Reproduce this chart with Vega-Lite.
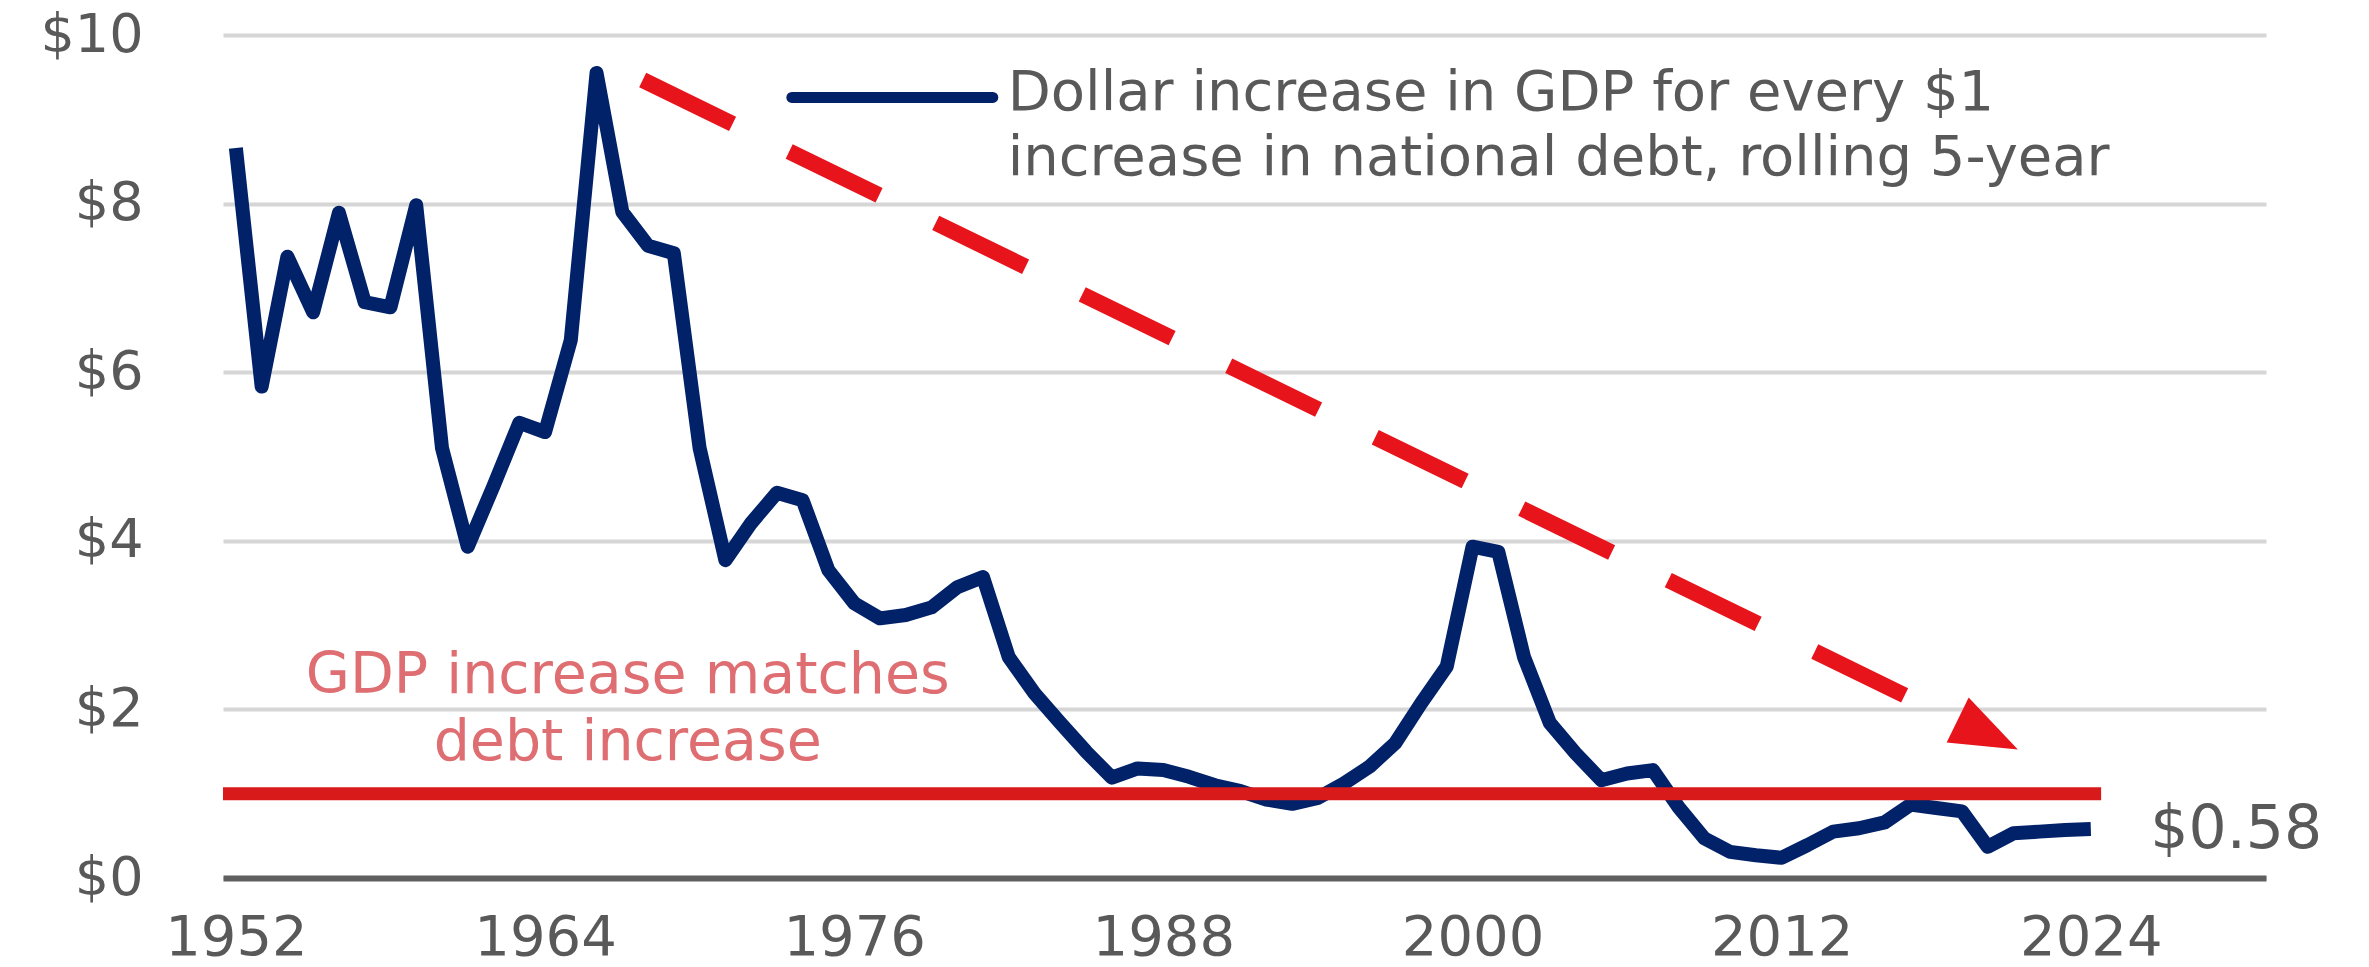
{
  "$schema": "https://vega.github.io/schema/vega-lite/v6.json",
  "width": 2043,
  "height": 843,
  "autosize": {"type": "none"},
  "padding": {"left": 223, "top": 35, "right": 103, "bottom": 89},
  "background": "white",
  "config": {"view": {"stroke": null}, "font": "DejaVu Sans"},
  "datasets": {
    "series": [
      {"year": 1952, "value": 8.66}, {"year": 1953, "value": 5.83}, {"year": 1954, "value": 7.37},
      {"year": 1955, "value": 6.71}, {"year": 1956, "value": 7.89}, {"year": 1957, "value": 6.83},
      {"year": 1958, "value": 6.77}, {"year": 1959, "value": 7.98}, {"year": 1960, "value": 5.1},
      {"year": 1961, "value": 3.93}, {"year": 1962, "value": 4.65}, {"year": 1963, "value": 5.4},
      {"year": 1964, "value": 5.29}, {"year": 1965, "value": 6.38}, {"year": 1966, "value": 9.55},
      {"year": 1967, "value": 7.9}, {"year": 1968, "value": 7.5}, {"year": 1969, "value": 7.41},
      {"year": 1970, "value": 5.1}, {"year": 1971, "value": 3.77}, {"year": 1972, "value": 4.21},
      {"year": 1973, "value": 4.57}, {"year": 1974, "value": 4.48}, {"year": 1975, "value": 3.65},
      {"year": 1976, "value": 3.26}, {"year": 1977, "value": 3.08}, {"year": 1978, "value": 3.12},
      {"year": 1979, "value": 3.21}, {"year": 1980, "value": 3.45}, {"year": 1981, "value": 3.57},
      {"year": 1982, "value": 2.62}, {"year": 1983, "value": 2.19}, {"year": 1984, "value": 1.84},
      {"year": 1985, "value": 1.5}, {"year": 1986, "value": 1.19}, {"year": 1987, "value": 1.3},
      {"year": 1988, "value": 1.28}, {"year": 1989, "value": 1.2}, {"year": 1990, "value": 1.1},
      {"year": 1991, "value": 1.03}, {"year": 1992, "value": 0.93}, {"year": 1993, "value": 0.88},
      {"year": 1994, "value": 0.95}, {"year": 1995, "value": 1.12}, {"year": 1996, "value": 1.32},
      {"year": 1997, "value": 1.6}, {"year": 1998, "value": 2.07}, {"year": 1999, "value": 2.51},
      {"year": 2000, "value": 3.93}, {"year": 2001, "value": 3.87}, {"year": 2002, "value": 2.62},
      {"year": 2003, "value": 1.84}, {"year": 2004, "value": 1.48}, {"year": 2005, "value": 1.16},
      {"year": 2006, "value": 1.24}, {"year": 2007, "value": 1.28}, {"year": 2008, "value": 0.84},
      {"year": 2009, "value": 0.47}, {"year": 2010, "value": 0.31}, {"year": 2011, "value": 0.27},
      {"year": 2012, "value": 0.24}, {"year": 2013, "value": 0.39}, {"year": 2014, "value": 0.55},
      {"year": 2015, "value": 0.59}, {"year": 2016, "value": 0.66}, {"year": 2017, "value": 0.87},
      {"year": 2018, "value": 0.83}, {"year": 2019, "value": 0.79}, {"year": 2020, "value": 0.37},
      {"year": 2021, "value": 0.53}, {"year": 2022, "value": 0.55}, {"year": 2023, "value": 0.57},
      {"year": 2024, "value": 0.58}
    ],
    "arrow": [
      {"year": 1967.79, "value": 9.466},
      {"year": 2018.82, "value": 1.862}
    ],
    "one": [{"k": 1}]
  },
  "layer": [
    {
      "data": {"name": "series"},
      "mark": {"type": "line", "color": "#012169", "strokeWidth": 14, "strokeJoin": "round", "strokeCap": "butt"},
      "encoding": {
        "x": {
          "field": "year", "type": "quantitative",
          "scale": {"domain": [1951.5, 2030.8], "nice": false, "zero": false},
          "axis": {
            "title": null, "values": [1952, 1964, 1976, 1988, 2000, 2012, 2024], "format": "d",
            "grid": false, "ticks": false, "domain": true, "domainColor": "#5f5f5f", "domainWidth": 6,
            "labelFont": "DejaVu Sans", "labelFontSize": 56, "labelColor": "#595959", "labelPadding": 32,
            "labelFlush": false, "labelOverlap": false
          }
        },
        "y": {
          "field": "value", "type": "quantitative",
          "scale": {"domain": [0, 10], "nice": false},
          "axis": {
            "title": null, "values": [0, 2, 4, 6, 8, 10], "labelExpr": "'$' + datum.value",
            "grid": true, "gridColor": "#d6d6d6", "gridWidth": 4, "ticks": false, "domain": false,
            "labelFont": "DejaVu Sans", "labelFontSize": 54, "labelColor": "#595959", "labelPadding": 80,
            "labelFlush": false, "labelOverlap": false
          }
        }
      }
    },
    {
      "data": {"name": "one"},
      "mark": {"type": "rule", "color": "#d91a1a", "strokeWidth": 13},
      "encoding": {
        "x": {"datum": 1951.5, "type": "quantitative"},
        "x2": {"datum": 2024.4},
        "y": {"datum": 1, "type": "quantitative"}
      }
    },
    {
      "data": {"name": "arrow"},
      "mark": {"type": "line", "color": "#e8141c", "strokeWidth": 16, "strokeDash": [100, 63], "strokeCap": "butt"},
      "encoding": {
        "x": {"field": "year", "type": "quantitative"},
        "y": {"field": "value", "type": "quantitative"}
      }
    },
    {
      "data": {"name": "one"},
      "mark": {"type": "point", "shape": "M1,0L-1,-0.75L-1,0.75Z", "filled": true, "color": "#e8141c", "opacity": 1, "size": 4489, "angle": 26, "strokeWidth": 0},
      "encoding": {
        "x": {"datum": 2020.0, "type": "quantitative"},
        "y": {"datum": 1.70, "type": "quantitative"}
      }
    },
    {
      "data": {"name": "one"},
      "mark": {"type": "rule", "color": "#012169", "strokeWidth": 11, "strokeCap": "round"},
      "encoding": {
        "x": {"datum": 1973.58, "type": "quantitative"},
        "x2": {"datum": 1981.38},
        "y": {"datum": 9.26, "type": "quantitative"}
      }
    },
    {
      "data": {"name": "one"},
      "mark": {"type": "text", "align": "left", "baseline": "alphabetic", "fontSize": 56, "lineHeight": 65, "color": "#595959", "font": "DejaVu Sans",
        "text": ["Dollar increase in GDP for every $1", "increase in national debt, rolling 5-year"]},
      "encoding": {
        "x": {"datum": 1981.96, "type": "quantitative"},
        "y": {"datum": 9.11, "type": "quantitative"}
      }
    },
    {
      "data": {"name": "one"},
      "mark": {"type": "text", "align": "center", "baseline": "alphabetic", "fontSize": 57, "lineHeight": 67, "color": "#de6e72", "font": "DejaVu Sans",
        "text": ["GDP increase matches", "debt increase"]},
      "encoding": {
        "x": {"datum": 1967.21, "type": "quantitative"},
        "y": {"datum": 2.2, "type": "quantitative"}
      }
    },
    {
      "data": {"name": "one"},
      "mark": {"type": "text", "align": "left", "baseline": "middle", "fontSize": 60, "color": "#595959", "font": "DejaVu Sans", "text": "$0.58"},
      "encoding": {
        "x": {"datum": 2026.31, "type": "quantitative"},
        "y": {"datum": 0.57, "type": "quantitative"}
      }
    }
  ]
}
